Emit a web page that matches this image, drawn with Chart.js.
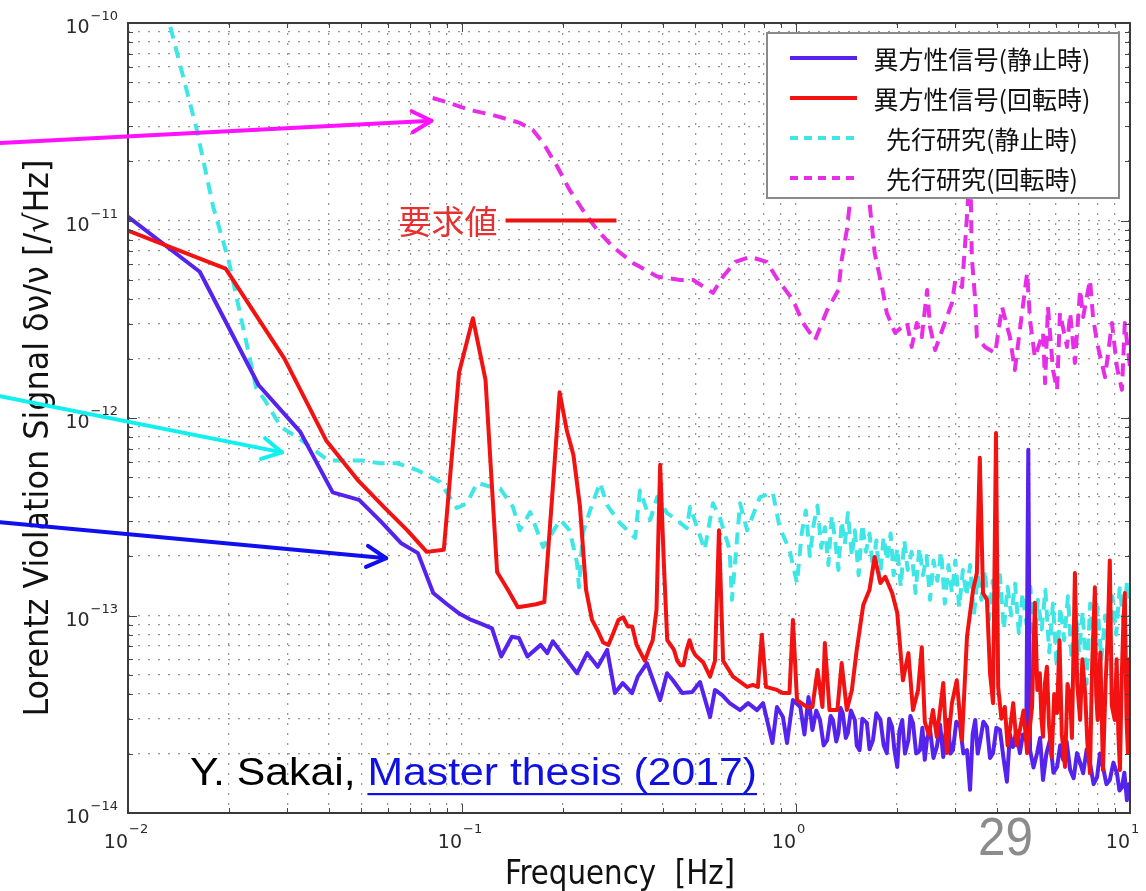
<!DOCTYPE html>
<html><head><meta charset="utf-8">
<script src="https://cdn.jsdelivr.net/npm/chart.js@4.4.1/dist/chart.umd.min.js"></script>
<style>html,body{margin:0;padding:0;background:#fff;overflow:hidden}canvas{display:block}</style>
</head><body>
<canvas id="c" width="1146" height="891"></canvas>
<script>
// ---------- data ----------
const blueFreq = [0.0082,0.0164,0.0246,0.0328,0.041,0.0492,0.0574,0.0656,0.0738,0.082,0.0902,0.0984,0.1066,0.1148,0.123,0.131,0.141,0.148,0.157,0.172,0.180,0.187,0.201,0.221,0.237,0.255,0.272,0.287,0.303,0.323,0.336,0.358,0.392,0.411,0.428,0.456,0.489,0.516,0.553,0.572,0.600,0.633,0.680,0.719,0.764,0.797,0.850,0.877,0.914,0.940,0.979,
  1.03,1.06,1.09,1.12,1.15,1.18,1.21,1.24,1.27,1.29,1.32,1.34,1.36,1.38,1.41,1.43,1.46,1.50,1.52,1.55,1.58,1.63,1.66,1.70,1.74,1.79,1.83,1.87,1.90,1.94,1.97,2.01,2.04,2.08,2.12,2.17,2.20,2.24,2.29,2.35,2.39,2.43,2.47,2.52,2.58,2.64,2.70,2.76,2.80,2.85,2.90,2.95,3.02,3.10,3.17,3.25,3.32,3.38,3.44,3.50,3.55,3.64,3.73,3.81,3.89,3.98,4.08,4.18,4.28,4.37,4.46,4.57,4.68,4.78,4.89,4.96,5.02,5.14,5.27,5.38,5.49,5.62,5.76,5.90,6.05,6.18,6.31,6.46,6.62,6.78,6.94,7.09,7.24,7.42,7.59,7.78,7.97,8.13,8.30,8.50,8.70,8.92,9.14,9.30,9.46,9.62,9.79,9.90,10.0];
const blueVal = [1.35e-11,5.5e-12,1.47e-12,8.5e-13,4.2e-13,3.85e-13,2.97e-13,2.33e-13,2.07e-13,1.3e-13,1.14e-13,1.02e-13,9.5e-14,9.05e-14,8.6e-14,6.2e-14,7.8e-14,7.7e-14,6.2e-14,7.1e-14,6.45e-14,7.4e-14,6.3e-14,5.1e-14,6.45e-14,5.5e-14,6.7e-14,4.05e-14,4.55e-14,4.05e-14,4.9e-14,5.74e-14,3.73e-14,5.1e-14,4.7e-14,4.05e-14,4.1e-14,4.6e-14,3.06e-14,4.2e-14,3.96e-14,3.6e-14,3.32e-14,3.6e-14,3.32e-14,3.6e-14,2.26e-14,3.44e-14,3.06e-14,2.26e-14,3.73e-14,
  3.44e-14,2.5e-14,3.87e-14,2.63e-14,3.3e-14,2.96e-14,2.2e-14,2.34e-14,3.1e-14,2.96e-14,2.3e-14,2.54e-14,3.4e-14,3.21e-14,2.4e-14,2.54e-14,3.3e-14,2.96e-14,2.2e-14,2.08e-14,3.0e-14,2.86e-14,2.1e-14,2.34e-14,3.2e-14,2.96e-14,2.2e-14,2.01e-14,3.0e-14,2.73e-14,2.1e-14,1.71e-14,2.6e-14,2.96e-14,2.0e-14,2.34e-14,3.1e-14,2.86e-14,2.0e-14,2.08e-14,2.7e-14,1.86e-14,2.4e-14,2.63e-14,1.9e-14,2.16e-14,2.8e-14,1.92e-14,2.5e-14,2.96e-14,2.0e-14,2.08e-14,2.9e-14,2.73e-14,2.0e-14,2.08e-14,1.31e-14,2.5e-14,2.96e-14,2.0e-14,2.26e-14,2.9e-14,2.73e-14,1.9e-14,2.01e-14,2.7e-14,2.63e-14,1.9e-14,1.44e-14,2.5e-14,2.16e-14,2.6e-14,2.01e-14,2.5e-14,2.34e-14,6.9e-13,2.08e-14,1.7e-14,2.01e-14,2.4e-14,1.47e-14,2.0e-14,2.34e-14,1.6e-14,1.71e-14,2.2e-14,1.86e-14,2.3e-14,1.65e-14,1.5e-14,2.01e-14,1.8e-14,1.59e-14,2.1e-14,1.79e-14,1.4e-14,1.52e-14,2.0e-14,1.71e-14,1.4e-14,1.47e-14,1.8e-14,1.59e-14,1.3e-14,1.35e-14,1.6e-14,1.16e-14,1.4e-14,1.26e-14];

const redFreq = [0.0098,0.0196,0.0294,0.0392,0.049,0.0588,0.0686,0.0784,0.0882,0.098,0.1078,0.1176,0.1274,0.1372,0.147,0.1568,0.1666,0.1764,0.1862,0.196,0.2058,0.2156,0.2254,0.2352,0.245,0.2548,0.2646,0.2744,0.2842,0.294,0.3038,0.3136,0.3234,0.3332,0.343,0.3528,0.3626,0.3724,0.3822,0.392,0.4018,0.4116,0.4214,0.4312,0.441,0.4508,0.4606,0.4704,0.4802,0.49,0.4998,0.527,0.553,0.572,0.588,0.605,0.648,0.714,0.743,0.769,0.790,0.813,0.877,0.914,0.956,0.979,1.007,1.08,1.12,1.16,1.20,1.22,1.26,1.33,1.37,1.42,1.47,1.52,1.59,1.66,1.72,1.79,1.85,1.94,2.01,2.09,2.17,2.24,2.32,2.38,2.43,2.50,2.57,2.64,2.76,2.83,2.93,3.03,3.14,3.25,3.39,3.48,3.55,3.63,3.73,3.81,3.89,3.97,
  4.03,4.12,4.22,4.30,4.37,4.47,4.58,4.68,4.80,4.92,5.00,5.09,5.19,5.28,5.37,5.43,5.49,5.56,5.64,5.72,5.83,5.93,6.05,6.15,6.25,6.39,6.50,6.62,6.70,6.84,6.95,7.09,7.20,7.34,7.45,7.59,7.70,7.85,7.92,8.00,8.15,8.30,8.45,8.58,8.70,8.82,9.00,9.12,9.23,9.33,9.45,9.55,9.65,9.76,9.86,9.93,10.0];
const redVal = [9.0e-12,5.7e-12,2.0e-12,7.7e-13,4.8e-13,3.5e-13,2.7e-13,2.1e-13,2.15e-13,1.7e-12,3.2e-12,1.56e-12,1.66e-13,1.35e-13,1.1e-13,1.12e-13,1.14e-13,1.17e-13,4.0e-13,1.35e-12,8.7e-13,6.5e-13,3.6e-13,1.35e-13,9.5e-14,8.4e-14,7.3e-14,7.1e-14,8.2e-14,9.5e-14,9.8e-14,8.8e-14,8.8e-14,7.1e-14,6.45e-14,5.9e-14,6.7e-14,7.5e-14,1.07e-13,5.8e-13,1.9e-13,7.5e-14,7.1e-14,6.7e-14,5.9e-14,5.6e-14,5.6e-14,6.7e-14,7.5e-14,6.7e-14,6.3e-14,5.8e-14,4.9e-14,5.9e-14,2.7e-13,5.9e-14,4.9e-14,4.35e-14,4.45e-14,4.35e-14,8.0e-14,4.35e-14,4.2e-14,4.05e-14,4.05e-14,9.5e-14,3.73e-14,3.44e-14,3.44e-14,5.3e-14,3.44e-14,7.25e-14,3.32e-14,3.32e-14,5.74e-14,3.32e-14,4.2e-14,6.7e-14,1.13e-13,1.35e-13,1.98e-13,1.46e-13,1.57e-13,1.3e-13,1.03e-13,4.7e-14,6.45e-14,3.32e-14,4.2e-14,6.9e-14,2.89e-14,2.48e-14,3.32e-14,2.43e-14,4.55e-14,2.01e-14,3.6e-14,4.7e-14,2.34e-14,7.8e-14,1.35e-13,1.64e-13,6.3e-13,1.3e-13,1.2e-13,5.1e-14,3.6e-14,8.4e-13,
  4.35e-14,3.0e-14,3.44e-14,2.2e-14,2.63e-14,3.6e-14,2.2e-14,2.63e-14,3.3e-14,2.01e-14,2.6e-14,3.44e-14,1.16e-13,4.2e-14,5.1e-14,3.0e-14,2.43e-14,4.5e-14,5.5e-14,2.8e-14,1.92e-14,4.0e-14,3.21e-14,7.5e-14,2.5e-14,1.71e-14,4.5e-14,3.87e-14,2.4e-14,1.64e-13,4.5e-14,2.96e-14,6.0e-14,4.05e-14,2.3e-14,1.59e-14,5.5e-14,1.39e-13,4.0e-14,2.96e-14,6.5e-14,1.65e-14,4.5e-14,8.0e-14,1.9e-13,3.5e-14,2.96e-14,6.0e-14,2.5e-14,1.65e-14,5.0e-14,9.0e-14,1.3e-13,3.0e-14,2.01e-14,6.0e-14,3.73e-14];

const cyanFreq = [0.0125,0.016,0.018,0.020,0.0242,0.0257,0.0287,0.033,0.0397,0.050,0.0568,0.0639,0.0734,0.0858,0.0965,0.1035,0.111,0.121,0.130,0.142,0.149,0.160,0.175,0.197,0.210,0.221,0.224,0.230,0.242,0.259,0.272,0.297,0.330,0.341,0.366,0.384,0.411,0.428,0.471,0.482,0.533,0.564,0.592,0.633,0.643,0.680,0.714,0.780,0.852,0.893,0.956,
  1.007,1.04,1.07,1.10,1.13,1.16,1.19,1.22,1.25,1.28,1.31,1.34,1.37,1.40,1.43,1.47,1.50,1.54,1.58,1.62,1.66,1.70,1.74,1.78,1.83,1.87,1.92,1.96,2.01,2.06,2.11,2.16,2.22,2.28,2.34,2.40,2.46,2.52,2.58,2.65,2.72,2.79,2.86,2.93,3.00,3.08,3.16,3.24,3.32,3.41,3.50,3.59,3.68,3.78,3.88,3.98,4.08,4.19,4.30,4.41,4.53,4.65,4.77,4.90,5.03,5.16,5.30,5.44,5.58,5.73,5.88,6.03,6.19,6.35,6.52,6.69,6.86,7.04,7.22,7.41,7.60,7.80,8.00,8.21,8.42,8.64,8.86,9.09,9.32,9.56,9.80,10.0];
const cyanVal = [1.5e-10,2.97e-11,1.17e-11,6.3e-12,1.42e-12,1.23e-12,9.0e-13,7.75e-13,6.1e-13,6.1e-13,5.9e-13,5.9e-13,5.45e-13,4.75e-13,3.5e-13,3.7e-13,4.7e-13,4.5e-13,4.4e-13,3.55e-13,2.7e-13,3.34e-13,2.22e-13,3.05e-13,2.7e-13,1.85e-13,1.39e-13,2.62e-13,3.42e-13,4.7e-13,3.62e-13,2.94e-13,2.47e-13,4.3e-13,3.05e-13,3.98e-13,3.3e-13,3.15e-13,2.77e-13,3.55e-13,2.15e-13,3.7e-13,3.12e-13,2.15e-13,1.2e-13,3.7e-13,2.7e-13,3.98e-13,4.2e-13,2.8e-13,2.15e-13,
  1.46e-13,2.6e-13,3.4e-13,2.0e-13,2.9e-13,3.6e-13,2.2e-13,2.8e-13,1.8e-13,3.2e-13,2.4e-13,1.7e-13,3.0e-13,2.3e-13,3.3e-13,2.0e-13,2.7e-13,1.6e-13,2.9e-13,2.1e-13,2.6e-13,1.7e-13,2.4e-13,1.5e-13,2.5e-13,1.9e-13,2.6e-13,1.6e-13,2.2e-13,1.4e-13,2.4e-13,1.7e-13,2.1e-13,1.3e-13,2.2e-13,1.6e-13,2.0e-13,1.2e-13,1.9e-13,1.5e-13,2.1e-13,1.15e-13,1.8e-13,1.3e-13,1.9e-13,1.1e-13,1.7e-13,1.25e-13,1.8e-13,1.0e-13,1.6e-13,1.2e-13,1.7e-13,9.5e-14,1.5e-13,1.1e-13,1.6e-13,8.5e-14,1.4e-13,1.0e-13,1.45e-13,8.0e-14,1.3e-13,9.0e-14,1.4e-13,7.0e-14,1.2e-13,8.5e-14,1.35e-13,6.5e-14,1.15e-13,5.5e-14,1.1e-13,7.5e-14,1.25e-13,6.0e-14,1.1e-13,6.5e-14,1.05e-13,4.5e-14,1.15e-13,7.0e-14,1.1e-13,6.0e-14,1.0e-13,7.0e-14,1.25e-13,8.0e-14,1.4e-13,9.0e-14,1.5e-13,1.1e-13];

const magentaFreq = [0.0817,0.090,0.106,0.124,0.149,0.163,0.175,0.193,0.210,0.230,0.254,0.283,0.325,0.384,0.450,0.492,0.564,0.605,0.658,0.729,0.817,0.883,0.979,1.05,1.14,1.24,1.34,1.37,1.42,1.45,1.55,1.66,1.72,1.81,1.87,1.98,2.15,2.22,2.30,2.38,2.47,2.52,2.61,2.76,2.93,3.00,3.14,3.20,3.27,3.32,3.36,3.44,3.48,3.68,3.95,4.03,4.14,4.37,4.52,4.68,4.92,5.02,5.19,5.49,5.57,5.68,5.88,6.05,6.17,6.48,6.62,6.84,7.09,7.24,7.59,7.75,7.97,8.42,8.83,9.14,9.46,9.65,10.0];
const magentaVal = [4.17e-11,3.98e-11,3.62e-11,3.42e-11,3.12e-11,2.87e-11,2.47e-11,1.87e-11,1.43e-11,1.13e-11,8.95e-12,7.35e-12,6.1e-12,5.2e-12,5.0e-12,5.0e-12,4.3e-12,5.2e-12,6.17e-12,6.55e-12,6.17e-12,5.0e-12,3.96e-12,3.03e-12,2.48e-12,3.52e-12,4.45e-12,6.3e-12,8.95e-12,1.23e-11,2.27e-11,1.23e-11,6.85e-12,4.6e-12,3.4e-12,2.7e-12,3.03e-12,2.29e-12,3.03e-12,2.57e-12,4.45e-12,2.89e-12,2.21e-12,2.89e-12,3.82e-12,5.0e-12,4.6e-12,7.1e-12,1.23e-11,2.27e-11,6.55e-12,3.96e-12,2.57e-12,2.29e-12,2.13e-12,2.7e-12,3.65e-12,2.57e-12,1.75e-12,2.79e-12,5.42e-12,3.14e-12,2.03e-12,2.7e-12,1.5e-12,3.65e-12,1.75e-12,1.39e-12,3.4e-12,2.29e-12,3.4e-12,1.9e-12,4.45e-12,3.25e-12,5.0e-12,3.25e-12,2.4e-12,1.61e-12,3.03e-12,1.81e-12,1.39e-12,3.03e-12,1.81e-12];

// requirement level (要求値)
const reqFreq = [0.135, 0.29];
const reqVal = [1e-11, 1e-11];

// labels
const seriesLabels = ['異方性信号(静止時)', '異方性信号(回転時)', '先行研究(静止時)', '先行研究(回転時)'];
const reqLabel = '要求値';
const xTickValues = [0.01, 0.1, 1, 10];
const xTickExponents = ['−2', '−1', '0', '1'];
const yTickValues = [1e-14, 1e-13, 1e-12, 1e-11, 1e-10];
const yTickExponents = ['−14', '−13', '−12', '−11', '−10'];
const xTitle = 'Frequency  [Hz]';
const yTitle = 'Lorentz Violation Signal δν/ν [/√Hz]';
const citeAuthor = 'Y. Sakai, ';
const citeLink = 'Master thesis (2017)';
const pageNumber = '29';

// grid tick table for the log axes (1..9 in every decade)
const gridMantissas = [1,2,3,4,5,6,7,8,9];
const xDecades = [0.01, 0.1, 1];
const yDecades = [1e-14, 1e-13, 1e-12, 1e-11];
const xGridTicks = xDecades.flatMap(d => gridMantissas.map(m => +(m * d).toPrecision(3))).concat([10]);
const yGridTicks = yDecades.flatMap(d => gridMantissas.map(m => +(m * d).toPrecision(3))).concat([1e-10]);

// ---------- styles ----------
const C_BLUE = '#5522ee', C_RED = '#f21212', C_CYAN = '#3fe6e6', C_MAG = '#e62ee6';
const FONT_TICK = '"DejaVu Sans", sans-serif';
const FONT_AXIS = '"DejaVu Sans Condensed", "DejaVu Sans", sans-serif';
const FONT_CJK = '"Noto Sans CJK JP", "Noto Sans CJK SC", sans-serif';
const FONT_TEXT = '"Liberation Sans", Arial, sans-serif';
const GRID_DASH = [2, 8];

const toPts = (f, v) => f.map((x, i) => ({ x, y: v[i] }));

const datasets = [
  { label: seriesLabels[0], data: toPts(blueFreq, blueVal), borderColor: C_BLUE, borderWidth: 4, order: 2 },
  { label: seriesLabels[1], data: toPts(redFreq, redVal), borderColor: C_RED, borderWidth: 4, order: 1 },
  { label: seriesLabels[2], data: toPts(cyanFreq, cyanVal), borderColor: C_CYAN, borderWidth: 4, borderDash: [12, 8], order: 3 },
  { label: seriesLabels[3], data: toPts(magentaFreq, magentaVal), borderColor: C_MAG, borderWidth: 4, borderDash: [13, 8], order: 4 },
  { label: reqLabel, data: toPts(reqFreq, reqVal), borderColor: '#ee1111', borderWidth: 4, order: 0 }
];
const legendIdx = [0, 1, 2, 3];

function drawFitted(ctx, text, x, y, w, align) {
  const m = ctx.measureText(text).width;
  const s = w / m;
  ctx.save();
  ctx.translate(x, y);
  ctx.scale(s, 1);
  ctx.textAlign = align || 'left';
  ctx.fillText(text, 0, 0);
  ctx.restore();
}

function arrow(ctx, x1, y1, x2, y2, color) {
  const ang = Math.atan2(y2 - y1, x2 - x1);
  const L = 22, spread = 0.5;
  ctx.save();
  ctx.strokeStyle = color; ctx.lineWidth = 4; ctx.lineCap = 'round'; ctx.lineJoin = 'round';
  ctx.beginPath(); ctx.moveTo(x1, y1); ctx.lineTo(x2, y2); ctx.stroke();
  ctx.beginPath();
  ctx.moveTo(x2 - L * Math.cos(ang - spread), y2 - L * Math.sin(ang - spread));
  ctx.lineTo(x2, y2);
  ctx.lineTo(x2 - L * Math.cos(ang + spread), y2 - L * Math.sin(ang + spread));
  ctx.stroke();
  ctx.restore();
}

const arrowSpec = [
  { color: '#ff10ff', from: [0.00414, 2.47e-11], to: [0.081, 3.2e-11] },
  { color: '#10f0f0', from: [0.00414, 1.29e-12], to: [0.0289, 6.7e-13] },
  { color: '#1010ee', from: [0.00414, 2.97e-13], to: [0.0593, 1.95e-13] }
];

const deco = {
  id: 'deco',
  beforeDraw(chart) {
    const c = chart.ctx; c.save(); c.fillStyle = '#fff'; c.fillRect(0, 0, chart.width, chart.height); c.restore();
  },
  afterDatasetsDraw(chart) {
    const c = chart.ctx, a = chart.chartArea, sx = chart.scales.x, sy = chart.scales.y;
    c.save();
    c.strokeStyle = '#444'; c.lineWidth = 1;
    const isMajor = v => Math.abs(v / Math.pow(10, Math.floor(Math.log10(v) + 1e-9)) - 1) < 1e-6;
    xGridTicks.forEach(v => {
      const x = Math.round(sx.getPixelForValue(v)) + 0.5, L = isMajor(v) ? 9 : 5;
      c.beginPath(); c.moveTo(x, a.bottom); c.lineTo(x, a.bottom - L); c.moveTo(x, a.top); c.lineTo(x, a.top + L); c.stroke();
    });
    yGridTicks.forEach(v => {
      const y = Math.round(sy.getPixelForValue(v)) + 0.5, L = isMajor(v) ? 9 : 5;
      c.beginPath(); c.moveTo(a.left, y); c.lineTo(a.left + L, y); c.moveTo(a.right, y); c.lineTo(a.right - L, y); c.stroke();
    });
    c.strokeStyle = '#3a3a3a'; c.lineWidth = 2;
    c.strokeRect(a.left, a.top, a.right - a.left, a.bottom - a.top);
    // legend box
    const lx = a.right - 363, ly = a.top + 10, lw = 352, lh = 165;
    c.fillStyle = '#fff'; c.fillRect(lx, ly, lw, lh);
    c.strokeStyle = '#8a8a8a'; c.lineWidth = 2; c.strokeRect(lx, ly, lw, lh);
    c.font = '25px ' + FONT_CJK; c.textAlign = 'center'; c.textBaseline = 'middle'; c.fillStyle = '#111';
    legendIdx.forEach((di, i) => {
      const ds = chart.data.datasets[di];
      const y = ly + 25 + i * 40;
      c.save();
      c.strokeStyle = ds.borderColor; c.lineWidth = 4;
      c.setLineDash(ds.borderDash ? [8, 6] : []);
      c.beginPath(); c.moveTo(lx + 23, y); c.lineTo(lx + 90, y); c.stroke();
      c.restore();
      c.fillText(ds.label, lx + 215, y + 1);
    });
    c.restore();
  },
  afterDraw(chart) {
    const c = chart.ctx, a = chart.chartArea, sx = chart.scales.x, sy = chart.scales.y;
    c.save();
    c.fillStyle = '#2a2a2a'; c.textBaseline = 'alphabetic';
    yTickValues.forEach((v, i) => {
      const y = sy.getPixelForValue(v);
      const right = a.left - 10;
      c.font = '13px ' + FONT_TICK; c.textAlign = 'right';
      c.fillText(yTickExponents[i], right, y - 3);
      const ew = c.measureText(yTickExponents[i]).width;
      c.font = '19px ' + FONT_TICK;
      c.fillText('10', right - ew - 1, y + 10);
    });
    xTickValues.forEach((v, i) => {
      const x = sx.getPixelForValue(v);
      c.font = '19px ' + FONT_TICK; c.textAlign = 'right';
      c.fillText('10', x, a.bottom + 35);
      c.font = '13px ' + FONT_TICK; c.textAlign = 'left';
      c.fillText(xTickExponents[i], x + 1, a.bottom + 20);
    });
    c.fillStyle = '#111';
    c.font = '33px ' + FONT_AXIS;
    drawFitted(c, xTitle, 620, a.bottom + 71, 230, 'center');
    c.save();
    c.translate(48, 438); c.rotate(-Math.PI / 2);
    c.font = '33px ' + FONT_AXIS;
    drawFitted(c, yTitle, 0, 0, 557, 'center');
    c.restore();
    const rx = sx.getPixelForValue(reqFreq[0]), ry = sy.getPixelForValue(reqVal[0]);
    c.fillStyle = '#e83030'; c.font = '33px ' + FONT_CJK; c.textAlign = 'right'; c.textBaseline = 'middle';
    c.fillText(reqLabel, rx - 8, ry + 1);
    c.textBaseline = 'alphabetic';
    arrowSpec.forEach(s => arrow(c, sx.getPixelForValue(s.from[0]), sy.getPixelForValue(s.from[1]),
      sx.getPixelForValue(s.to[0]), sy.getPixelForValue(s.to[1]), s.color));
    c.font = '38px ' + FONT_TEXT; c.textAlign = 'left';
    const wA = c.measureText(citeAuthor).width, wL = c.measureText(citeLink).width;
    const k = 567 / (wA + wL);
    c.save(); c.translate(190, 785); c.scale(k, 1);
    c.fillStyle = '#000'; c.fillText(citeAuthor, 0, 0);
    c.fillStyle = '#1010e0'; c.fillText(citeLink, wA, 0);
    c.fillRect(wA, 8, wL, 2.2);
    c.restore();
    c.fillStyle = '#8c8c8c'; c.font = '54px ' + FONT_TEXT;
    drawFitted(c, pageNumber, 978, 855, 55, 'left');
    c.restore();
  }
};

new Chart(document.getElementById('c').getContext('2d'), {
  type: 'line',
  data: { datasets },
  options: {
    responsive: false, animation: false, devicePixelRatio: 1,
    layout: { padding: { left: 128, right: 16, top: 23, bottom: 78 } },
    elements: { point: { radius: 0 }, line: { tension: 0, borderJoinStyle: 'round' } },
    plugins: { legend: { display: false }, tooltip: { enabled: false } },
    scales: {
      x: {
        type: 'logarithmic', min: 0.01, max: 10,
        afterBuildTicks: s => { s.ticks = xGridTicks.map(v => ({ value: v })); },
        ticks: { display: false },
        grid: { color: '#969696', lineWidth: 1.3, drawTicks: false },
        border: { display: false, dash: GRID_DASH }
      },
      y: {
        type: 'logarithmic', min: 1e-14, max: 1e-10,
        afterBuildTicks: s => { s.ticks = yGridTicks.map(v => ({ value: v })); },
        ticks: { display: false },
        grid: { color: '#969696', lineWidth: 1.3, drawTicks: false },
        border: { display: false, dash: GRID_DASH }
      }
    }
  },
  plugins: [deco]
});
</script>
</body></html>
